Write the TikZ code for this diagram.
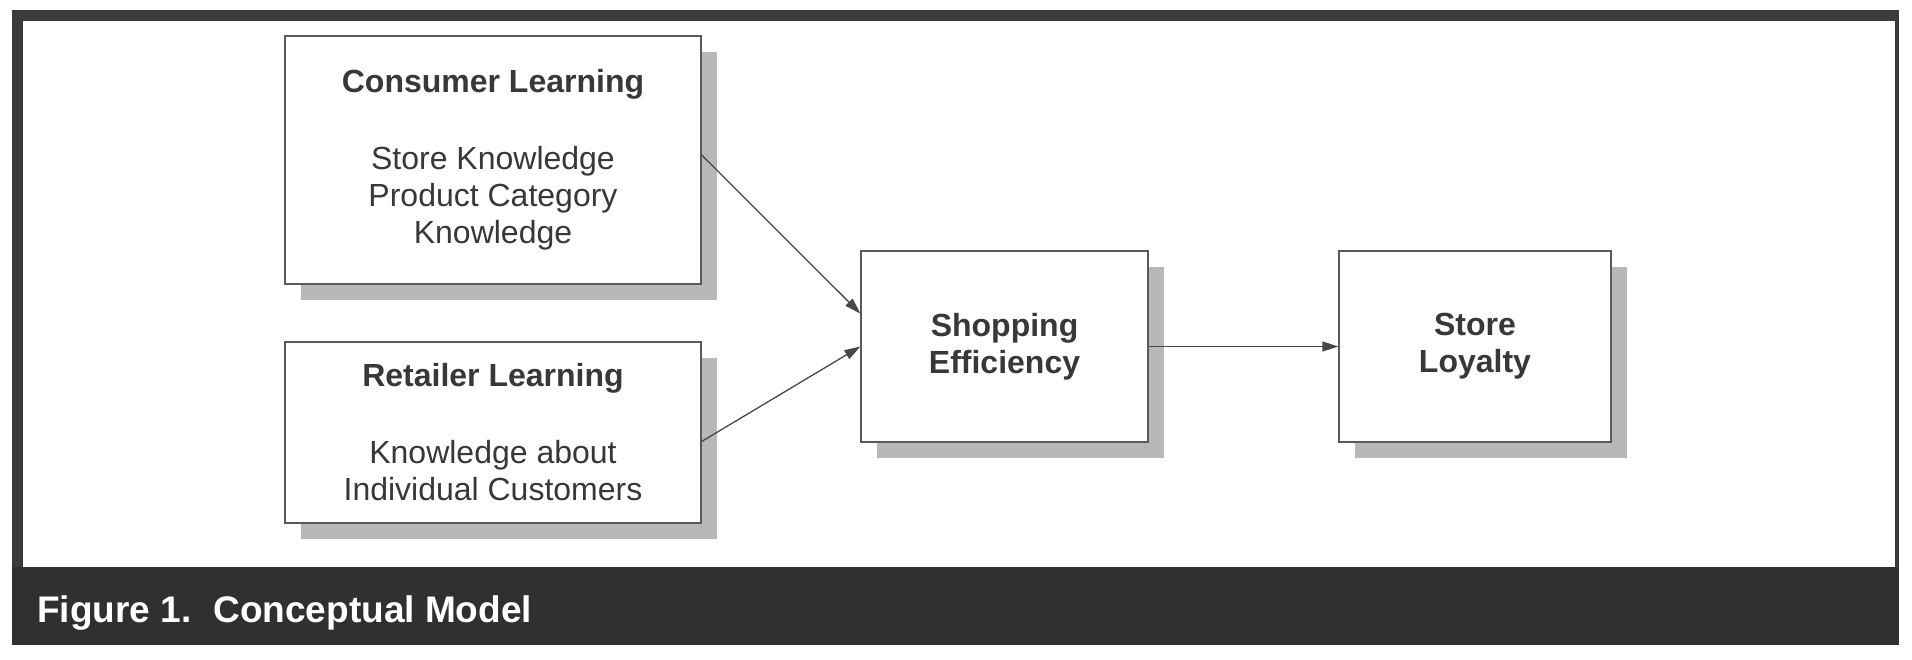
\documentclass[tikz,border=0pt]{standalone}
\usepackage{fontspec}
\setmainfont{Liberation Sans}
\usetikzlibrary{arrows.meta,shadows}
\definecolor{framegray}{HTML}{3B3B3B}
\definecolor{bandgray}{HTML}{303030}
\definecolor{shadowgray}{HTML}{B8B8B8}
\definecolor{boxline}{HTML}{5A5A5A}
\definecolor{textgray}{HTML}{383838}
\definecolor{arrowgray}{HTML}{484848}
\begin{document}
\begin{tikzpicture}[x=1pt,y=-1pt,
  box/.style={draw=boxline, line width=1.3pt, fill=white, align=center, text=textgray,
    inner sep=0pt, font=\fontsize{32pt}{37pt}\selectfont,
    drop shadow={shadow xshift=16pt, shadow yshift=-16pt, fill=shadowgray, draw=none, opacity=1}},
  conn/.style={draw=arrowgray, line width=1.3pt, -{Triangle[length=16pt,width=10pt]}}]
\useasboundingbox (0,0) rectangle (1912,660);
\fill[white] (0,0) rectangle (1912,660);
\fill[framegray] (12,10) rectangle (1899,645);
\fill[white] (23,21) rectangle (1895,567);
\fill[bandgray] (12,567) rectangle (1899,645);

\node[box, minimum width=416pt, minimum height=248pt] (cl) at (493,160)
  {\textbf{Consumer Learning}\\[40pt] Store Knowledge\\ Product Category\\ Knowledge};
\node[box, minimum width=416pt, minimum height=181pt] (rl) at (493,432.5)
  {\textbf{Retailer Learning}\\[40pt] Knowledge about\\ Individual Customers};
\node[box, minimum width=287pt, minimum height=191pt] (se) at (1004.5,346.5)
  {\textbf{Shopping}\\ \textbf{Efficiency}};
\node[box, minimum width=272pt, minimum height=191pt] (sl) at (1475,346.5)
  {\textbf{Store}\\ \textbf{Loyalty}};

\draw[conn] ([yshift=5pt]cl.east) -- ([yshift=33pt]se.west);
\draw[conn] ([yshift=-9pt]rl.east) -- (se.west);
\draw[conn] (se.east) -- (sl.west);

\node[anchor=base west, inner sep=0pt, text=white, font=\fontsize{37pt}{41pt}\selectfont\bfseries] (cap) at (37,622.5)
  {Figure 1.\hspace{22pt}Conceptual Model};
\end{tikzpicture}
\end{document}
